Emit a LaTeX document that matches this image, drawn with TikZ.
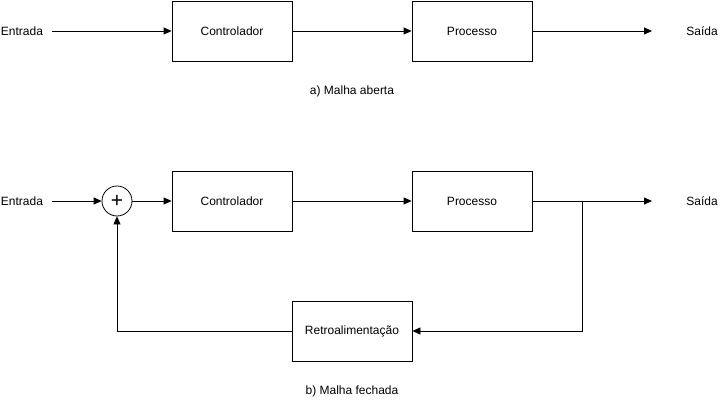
\documentclass[tikz,border=0pt]{standalone}
\usepackage{fontspec}
\setmainfont{Liberation Sans}
\usetikzlibrary{arrows.meta}

\begin{document}
\begin{tikzpicture}[x=1pt,y=-1pt,line width=0.8pt,
  font=\fontsize{12}{14}\selectfont,
  blockbox/.style={draw,minimum width=120pt,minimum height=60pt,inner sep=0pt},
  sumnode/.style={draw,circle,minimum size=30pt,inner sep=0pt},
  txt/.style={inner sep=0pt,minimum width=60pt},
  sig/.style={-{Triangle[length=8pt,width=7pt]}}]
  \useasboundingbox (0,0) rectangle (722,401);

  % a) malha aberta
  \node[txt] (in1) at (22,31) {Entrada};
  \node[blockbox] (ctrl1) at (232,31) {Controlador};
  \node[blockbox] (proc1) at (472,31) {Processo};
  \coordinate (out1) at (652,31);
  \node (sai1) at (702,31) {Saída};
  \node (capa) at (352,91) {a) Malha aberta};

  \draw[sig] (in1.east) -- (ctrl1.west);
  \draw[sig] (ctrl1.east) -- (proc1.west);
  \draw[sig] (proc1.east) -- (out1);

  % b) malha fechada
  \node[txt] (in2) at (22,201) {Entrada};
  \node[sumnode] (sum) at (117,201) {\fontsize{21}{21}\selectfont +};
  \node[blockbox] (ctrl2) at (232,201) {Controlador};
  \node[blockbox] (proc2) at (472,201) {Processo};
  \coordinate (out2) at (652,201);
  \coordinate (br) at (582,201);
  \node (sai2) at (702,201) {Saída};
  \node[blockbox] (fb) at (352,331) {Retroalimentação};
  \node (capb) at (352,391) {b) Malha fechada};

  \draw[sig] (in2.east) -- (sum.west);
  \draw[sig] (sum.east) -- (ctrl2.west);
  \draw[sig] (ctrl2.east) -- (proc2.west);
  \draw[sig] (proc2.east) -- (out2);
  \draw[sig] (br) |- (fb.east);
  \draw[sig] (fb.west) -| (sum.south);

\end{tikzpicture}
\end{document}
